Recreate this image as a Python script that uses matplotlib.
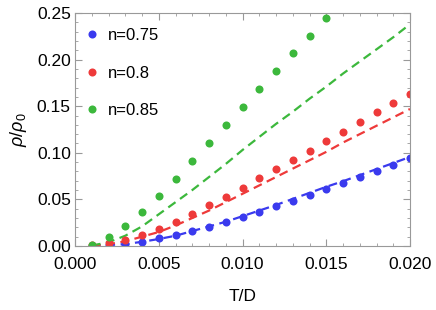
import numpy as np
import matplotlib.pyplot as plt
from matplotlib.ticker import MultipleLocator, FormatStrFormatter

plt.rcParams['font.family'] = ['Liberation Sans', 'DejaVu Sans']
plt.rcParams['mathtext.fontset'] = 'custom'
plt.rcParams['mathtext.it'] = 'Liberation Sans:italic'
plt.rcParams['mathtext.rm'] = 'Liberation Sans'

# data points (T/D, rho/rho0)
T_pts = [0.001, 0.002, 0.003, 0.004, 0.005, 0.006, 0.007, 0.008, 0.009, 0.010,
         0.011, 0.012, 0.013, 0.014, 0.015, 0.016, 0.017, 0.018, 0.019, 0.020]
rho_075 = [0.0005, 0.001, 0.002, 0.0047, 0.0082, 0.0118, 0.016, 0.0207, 0.0254, 0.0313,
           0.0368, 0.0426, 0.0486, 0.0547, 0.0612, 0.0676, 0.0737, 0.0805, 0.0869, 0.0941]
rho_080 = [0.001, 0.003, 0.0064, 0.0115, 0.0186, 0.0261, 0.0343, 0.0437, 0.0529, 0.0624,
           0.0726, 0.0823, 0.0923, 0.1023, 0.1127, 0.1226, 0.1332, 0.1435, 0.1531, 0.163]
T_pts_085 = [0.001, 0.002, 0.003, 0.004, 0.005, 0.006, 0.007, 0.008, 0.009, 0.010,
             0.011, 0.012, 0.013, 0.014, 0.015]
rho_085 = [0.001, 0.0093, 0.0218, 0.0368, 0.0536, 0.0719, 0.0909, 0.110, 0.1295, 0.149,
           0.168, 0.1875, 0.2068, 0.2256, 0.2443]

# dashed curves
T_line = [0.001, 0.002, 0.003, 0.004, 0.005, 0.006, 0.007, 0.008, 0.009, 0.010,
          0.011, 0.012, 0.013, 0.014, 0.015, 0.016, 0.017, 0.018, 0.019, 0.020]
line_075 = [0.0002, 0.001, 0.002, 0.0045, 0.0075, 0.011, 0.016, 0.021, 0.026, 0.032,
            0.038, 0.044, 0.0505, 0.057, 0.0635, 0.0695, 0.076, 0.0825, 0.089, 0.0955]
line_080 = [0.0003, 0.002, 0.005, 0.010, 0.015, 0.022, 0.030, 0.038, 0.047, 0.056,
            0.065, 0.074, 0.083, 0.092, 0.101, 0.111, 0.120, 0.129, 0.138, 0.147]
line_085 = [0.0005, 0.004, 0.011, 0.021, 0.034, 0.047, 0.060, 0.074, 0.088, 0.103,
            0.117, 0.131, 0.144, 0.158, 0.171, 0.185, 0.198, 0.211, 0.224, 0.238]

blue = '#3a3aee'
red = '#ee3a3a'
green = '#3cb83c'

fig = plt.figure(figsize=(4.36, 3.10), dpi=100)
ax = fig.add_axes([75/436, 1-246/310, 335/436, 233/310])

ax.plot(T_line, line_075, '--', color=blue, lw=1.6, dashes=(4, 2.5))
ax.plot(T_line, line_080, '--', color=red, lw=1.6, dashes=(4, 2.5))
ax.plot(T_line, line_085, '--', color=green, lw=1.6, dashes=(4, 2.5))
ax.plot(T_pts, rho_075, 'o', color=blue, ms=5.8, mew=0, label='n=0.75')
ax.plot(T_pts, rho_080, 'o', color=red, ms=5.8, mew=0, label='n=0.8')
ax.plot(T_pts_085, rho_085, 'o', color=green, ms=5.8, mew=0, label='n=0.85')

ax.set_xlim(0, 0.020)
ax.set_ylim(0, 0.25)
ax.xaxis.set_major_locator(MultipleLocator(0.005))
ax.xaxis.set_minor_locator(MultipleLocator(0.001))
ax.yaxis.set_major_locator(MultipleLocator(0.05))
ax.yaxis.set_minor_locator(MultipleLocator(0.01))
ax.xaxis.set_major_formatter(FormatStrFormatter('%.3f'))
ax.yaxis.set_major_formatter(FormatStrFormatter('%.2f'))

for s in ax.spines.values():
    s.set_color('#999999')
    s.set_linewidth(0.8)
ax.tick_params(which='both', direction='in', top=True, right=True,
               color='#999999', labelsize=12.5)
ax.tick_params(axis='x', which='major', pad=8)
ax.tick_params(axis='y', which='major', pad=3)
ax.tick_params(which='major', length=5, width=0.8)
ax.tick_params(which='minor', length=2.5, width=0.6)

ax.set_xlabel('T/D', fontsize=12.5, labelpad=12)
ax.set_ylabel(r'$\rho/\rho_0$', fontsize=13, labelpad=6)

ax.legend(loc='upper left', frameon=False, fontsize=12, handlelength=0.8,
          handletextpad=0.6, labelspacing=1.35, borderaxespad=0.3,
          bbox_to_anchor=(-0.005, 0.985))

fig.savefig('out.png', dpi=100)
